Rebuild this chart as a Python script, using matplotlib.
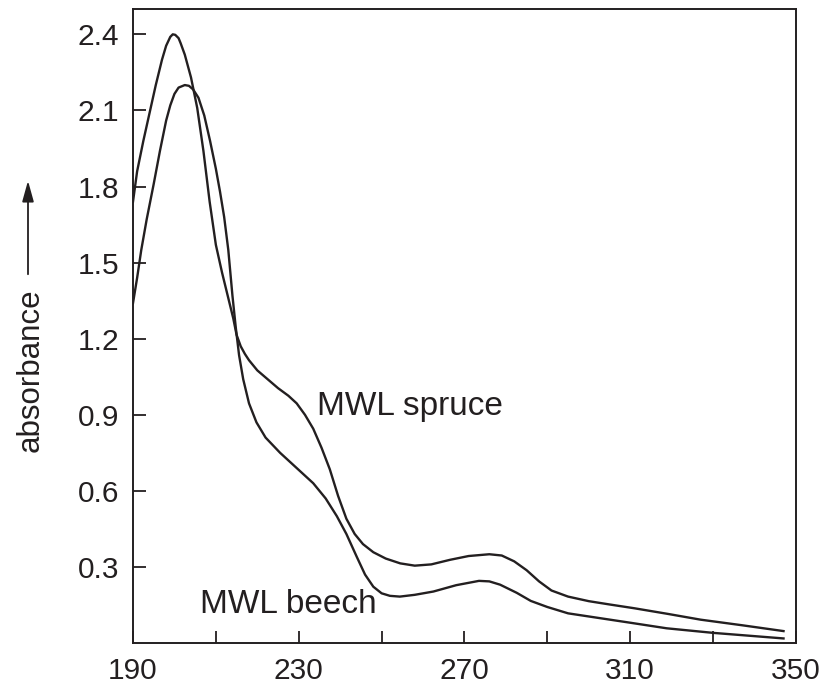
import matplotlib
matplotlib.use("Agg")
import matplotlib.pyplot as plt

plt.rcParams['font.family'] = ['Liberation Sans', 'DejaVu Sans']

ink = '#231f20'

# UV spectra of milled wood lignins
wl_spruce = [190, 191, 192.5, 194, 195.5, 197, 198, 199, 199.6, 200.2, 201, 201.5, 202.5,
             204, 205.5, 207, 208.5, 210, 211.5, 213, 214.2, 215, 216, 217, 218, 220, 222.5,
             225, 227.5, 229.5, 231.5, 233.5, 235.5, 237.5, 239.5, 241.5, 243.5, 245.5, 248,
             251, 254.5, 258, 262, 266.5, 271, 276, 279, 282, 285, 288, 291, 295, 300,
             305, 311, 319, 327, 337, 347]
abs_spruce = [1.74, 1.86, 1.98, 2.09, 2.20, 2.30, 2.355, 2.39, 2.40, 2.398, 2.385, 2.365,
              2.32, 2.23, 2.11, 1.94, 1.74, 1.57, 1.46, 1.36, 1.28, 1.215, 1.17, 1.14, 1.115,
              1.075, 1.04, 1.005, 0.975, 0.945, 0.90, 0.845, 0.77, 0.685, 0.58, 0.49, 0.43,
              0.39, 0.358, 0.333, 0.314, 0.305, 0.31, 0.328, 0.343, 0.35, 0.345, 0.322, 0.287,
              0.243, 0.207, 0.183, 0.165, 0.152, 0.137, 0.115, 0.092, 0.07, 0.047]

wl_beech = [190, 191, 192, 193.3, 195, 196.5, 198, 199, 200, 201, 202.5, 203.5, 204.5,
            205.8, 207.2, 208.6, 210, 211, 212, 213, 214, 214.8, 215.6, 216.6, 218, 219.8,
            222, 225.5, 229.5, 233.5, 236.5, 239.2, 241.5, 244, 246, 248, 250, 252, 254.4,
            258, 262.5, 268, 273.5, 276, 278.6, 282.6, 286, 290, 295, 302.7, 310, 318.8,
            330, 347]
abs_beech = [1.34, 1.44, 1.55, 1.67, 1.81, 1.94, 2.06, 2.12, 2.165, 2.19, 2.20, 2.197, 2.183,
             2.15, 2.08, 1.98, 1.87, 1.78, 1.68, 1.55, 1.37, 1.245, 1.135, 1.04, 0.945, 0.87,
             0.81, 0.75, 0.69, 0.63, 0.57, 0.50, 0.43, 0.34, 0.27, 0.222, 0.196, 0.186, 0.183,
             0.19, 0.203, 0.228, 0.245, 0.243, 0.23, 0.198, 0.166, 0.142, 0.117, 0.098, 0.08,
             0.058, 0.04, 0.018]

xticks = [190, 210, 230, 250, 270, 290, 310, 330, 350]
xticklabels = ['190', '', '230', '', '270', '', '310', '', '350']
yticks = [0.3, 0.6, 0.9, 1.2, 1.5, 1.8, 2.1, 2.4]

fig = plt.figure(figsize=(8.25, 6.85), dpi=100)
ax = fig.add_axes([0.1612, 0.0613, 0.8036, 0.9256])

ax.plot(wl_spruce, abs_spruce, color=ink, lw=1.7, solid_joinstyle='round')
ax.plot(wl_beech, abs_beech, color=ink, lw=1.7, solid_joinstyle='round')

ax.set_xlim(190, 350)
ax.set_ylim(0, 2.5)
ax.set_xticks(xticks)
ax.set_xticklabels(xticklabels)
ax.set_yticks(yticks)
ax.set_yticklabels(['%.1f' % v for v in yticks])

ax.tick_params(direction='in', length=9, width=1.3, color=ink, labelcolor=ink,
               labelsize=21.5, top=False, right=False)
ax.tick_params(axis='x', pad=10)
ax.tick_params(axis='y', pad=10)
for s in ax.spines.values():
    s.set_linewidth(1.4)
    s.set_color(ink)

ax.text(234.4, 0.898, 'MWL spruce', fontsize=24, color=ink, ha='left', va='baseline')
ax.text(206.2, 0.119, 'MWL beech', fontsize=24, color=ink, ha='left', va='baseline')

# y label with arrow pointing up
fig.text(31 / 825, 1 - 370 / 685, 'absorbance', rotation=90, fontsize=22.5,
         color=ink, ha='center', va='center')
fig.add_artist(matplotlib.patches.FancyArrowPatch(
    (28 / 825, 1 - 277 / 685), (28 / 825, 1 - 178 / 685), transform=fig.transFigure,
    arrowstyle='-|>,head_length=0.9,head_width=0.25', mutation_scale=14,
    color=ink, lw=1.3))

fig.savefig('out.png', dpi=100)
